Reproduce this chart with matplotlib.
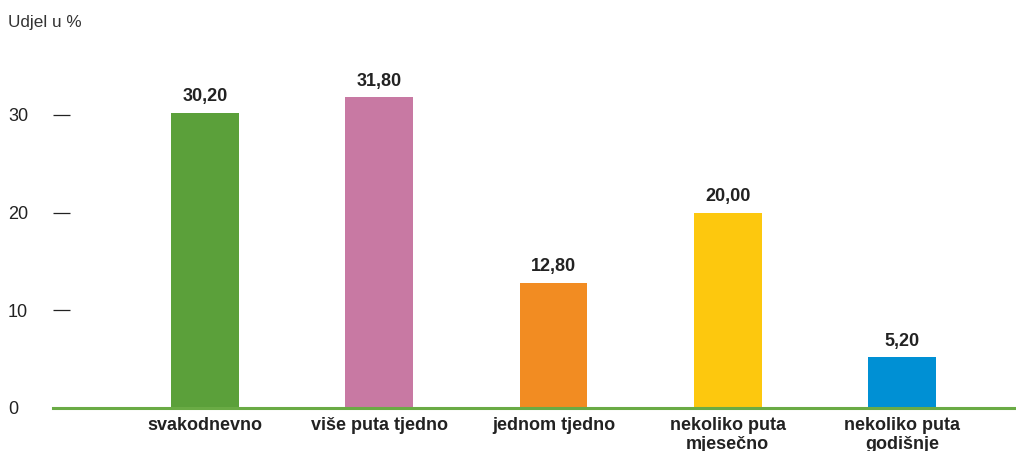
import matplotlib
matplotlib.use("Agg")
import matplotlib.pyplot as plt

categories = ["svakodnevno", "više puta tjedno", "jednom tjedno",
              "nekoliko puta\nmjesečno", "nekoliko puta\ngodišnje"]
values = [30.20, 31.80, 12.80, 20.00, 5.20]
colors = ["#5BA03A", "#C879A3", "#F28C22", "#FDC80E", "#0090D4"]
yticks = [0, 10, 20, 30]

plt.rcParams['font.family'] = ['Liberation Sans', 'DejaVu Sans']

W, H = 1016, 451
fig = plt.figure(figsize=(W / 100, H / 100), dpi=100)
left, right, bottom, top = 53, 1016, 408, 66
ax = fig.add_axes([left / W, (H - bottom) / H, (right - left) / W, (bottom - top) / H])

x = list(range(len(categories)))
ax.bar(x, values, width=0.39, color=colors, zorder=2)
ax.set_xlim(-0.872, 4.654)
ax.set_ylim(0, 35)

for xi, v in zip(x, values):
    ax.annotate(f"{v:.2f}".replace(".", ","), (xi, v), xytext=(0, 5.5),
                textcoords="offset points", ha="center", va="bottom",
                fontsize=13, fontweight="bold", color="#222222")

for s in ["top", "right", "left"]:
    ax.spines[s].set_visible(False)
ax.spines["bottom"].set_color("#6AAB45")
ax.spines["bottom"].set_linewidth(2.2)
ax.spines["bottom"].set_zorder(3)

ax.set_yticks(yticks)
ax.set_yticklabels([str(t) for t in yticks])
ax.tick_params(axis="y", direction="in", length=12.5, width=0.9, color="#222222",
               pad=32.5, labelsize=13, labelcolor="#222222")
for lbl in ax.get_yticklabels():
    lbl.set_horizontalalignment("left")

ax.set_xticks(x)
ax.set_xticklabels(categories, fontsize=13, fontweight="bold", color="#222222",
                   linespacing=1.15)
ax.tick_params(axis="x", length=0, pad=6.5)

fig.text(8 / W, 1 - 22 / H, "Udjel u %", fontsize=12.3, color="#333333",
         ha="left", va="center")

fig.savefig("out.png", dpi=100)
